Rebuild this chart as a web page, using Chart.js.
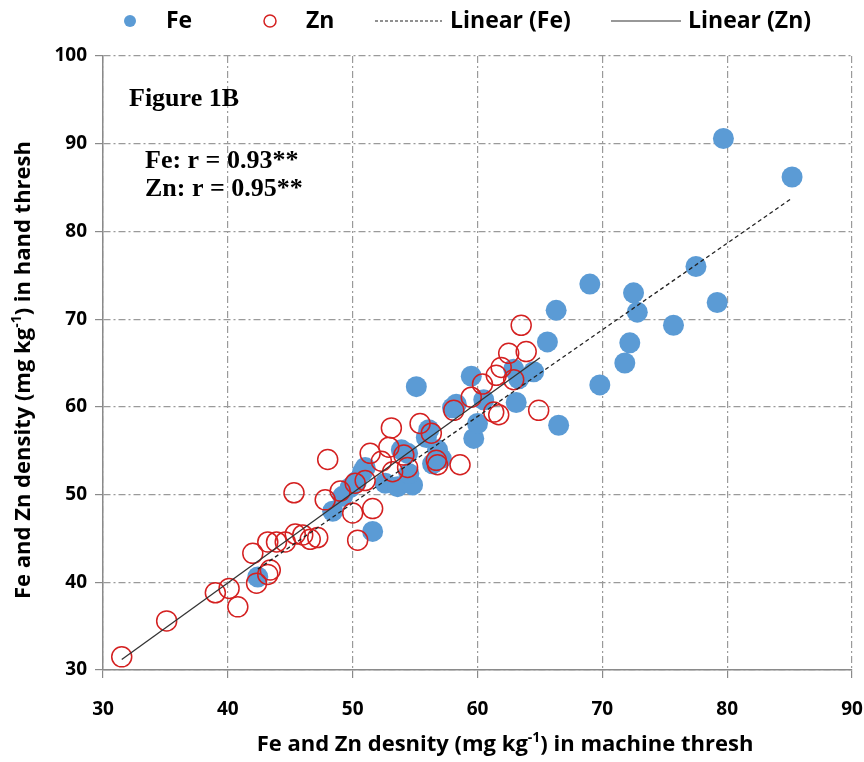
<!DOCTYPE html>
<html>
<head>
<meta charset="utf-8">
<script src="https://cdn.jsdelivr.net/npm/chart.js@4.4.1/dist/chart.umd.min.js"></script>
<style>
  html, body { margin: 0; padding: 0; background: #fff; overflow: hidden; }
  #wrap { width: 864px; height: 762px; position: relative; }
</style>
</head>
<body>
<div id="wrap"><canvas id="chart"></canvas></div>
<script>
// Fe: machine thresh (x) vs hand thresh (y)
const feMachine = [42.4, 48.4, 49.2, 49.8, 50.3, 50.8, 51.0, 51.6, 52.6, 53.6, 54.8, 54.5, 54.4, 53.9, 55.9,
  56.1, 56.8, 57.1, 56.4, 55.1, 58.0, 58.3, 59.5, 60.5, 59.7, 60.0, 62.9, 63.3, 64.5, 63.1,
  65.6, 66.3, 66.5, 69.0, 69.8, 71.8, 72.2, 72.5, 72.8, 75.7, 77.5, 79.2, 79.7, 85.2];
const feHand = [40.6, 48.1, 49.8, 50.8, 51.5, 52.6, 53.1, 45.8, 51.3, 50.9, 51.1, 52.4, 54.7, 55.1, 56.5,
  57.4, 55.1, 54.1, 53.5, 62.3, 59.9, 60.3, 63.5, 60.8, 56.4, 58.1, 64.3, 63.2, 64.0, 60.5,
  67.4, 71.0, 57.9, 74.0, 62.5, 65.0, 67.3, 73.0, 70.8, 69.3, 76.0, 71.9, 90.6, 86.2];

// Zn: machine thresh (x) vs hand thresh (y)
const znMachine = [31.5, 35.1, 39.0, 40.1, 40.8, 42.3, 43.2, 43.4, 42.0, 43.2, 43.9, 44.6, 45.4, 46.0, 46.6,
  47.2, 45.3, 47.8, 48.0, 49.0, 50.2, 51.0, 50.0, 51.6, 50.4, 51.4, 52.3, 52.9, 53.2, 53.1,
  54.1, 54.4, 55.4, 56.3, 56.7, 56.8, 58.6, 58.1, 59.5, 60.4, 61.3, 61.7, 61.5, 61.9, 62.9,
  62.5, 63.9, 63.5, 64.9];
const znHand = [31.5, 35.6, 38.8, 39.3, 37.2, 39.9, 40.9, 41.4, 43.3, 44.6, 44.6, 44.6, 45.5, 45.4, 44.9,
  45.1, 50.2, 49.4, 54.0, 50.4, 51.3, 51.6, 47.9, 48.4, 44.8, 54.7, 53.8, 55.4, 52.6, 57.6,
  54.5, 53.1, 58.1, 57.0, 53.9, 53.4, 53.4, 59.6, 61.1, 62.6, 59.4, 59.1, 63.6, 64.5, 63.1,
  66.1, 66.3, 69.3, 59.6];

// trend line end points
const feTrendX = [42.4, 85.2];
const feTrendY = [41.5, 83.8];
const znTrendX = [31.5, 65.0];
const znTrendY = [31.2, 65.6];

const xTicks = [30, 40, 50, 60, 70, 80, 90];
const yTicks = [30, 40, 50, 60, 70, 80, 90, 100];

const xTitle = [['Fe and Zn desnity (mg kg'], ['-1', true], [') in machine thresh']];
const yTitle = [['Fe and Zn density (mg kg'], ['-1', true], [') in hand thresh']];

const toPoints = (xs, ys) => xs.map((x, i) => ({ x, y: ys[i] }));

const FONT = '"Open Sans", Lato, sans-serif';
const BLUE = '#5B9BD5';
const RED = '#D42020';

const legendItems = [
  { label: 'Fe', kind: 'dot', x: 130, tx: 166 },
  { label: 'Zn', kind: 'ring', x: 270, tx: 306 },
  { label: 'Linear (Fe)', kind: 'dash', x: 375, x2: 442, tx: 450 },
  { label: 'Linear (Zn)', kind: 'line', x: 611, x2: 681, tx: 688 },
];

// text with a superscript part, centred on (0,0) of the current transform
function richText(ctx, parts, size) {
  const big = 'bold ' + size + 'px ' + FONT;
  const small = 'bold ' + Math.round(size * 0.62) + 'px ' + FONT;
  let total = 0;
  parts.forEach(([t, sup]) => { ctx.font = sup ? small : big; total += ctx.measureText(t).width; });
  let x = -total / 2;
  ctx.textAlign = 'left';
  ctx.textBaseline = 'middle';
  parts.forEach(([t, sup]) => {
    ctx.font = sup ? small : big;
    ctx.fillText(t, x, sup ? -size * 0.33 : 0);
    x += ctx.measureText(t).width;
  });
}

const extras = {
  id: 'extras',
  afterDraw(chart) {
    const ctx = chart.ctx;
    ctx.save();
    // legend
    const ly = 21;
    legendItems.forEach(it => {
      ctx.lineWidth = 1.5;
      if (it.kind === 'dot') {
        ctx.fillStyle = BLUE;
        ctx.beginPath(); ctx.arc(it.x, ly, 6, 0, Math.PI * 2); ctx.fill();
      } else if (it.kind === 'ring') {
        ctx.strokeStyle = RED;
        ctx.beginPath(); ctx.arc(it.x, ly, 6, 0, Math.PI * 2); ctx.stroke();
      } else {
        ctx.strokeStyle = it.kind === 'dash' ? '#222' : '#333';
        ctx.lineWidth = 1.2;
        ctx.setLineDash(it.kind === 'dash' ? [3, 2] : []);
        ctx.beginPath(); ctx.moveTo(it.x, ly); ctx.lineTo(it.x2, ly); ctx.stroke();
        ctx.setLineDash([]);
      }
      ctx.fillStyle = '#000';
      ctx.font = 'bold 23px ' + FONT;
      ctx.textBaseline = 'middle';
      ctx.textAlign = 'left';
      ctx.fillText(it.label, it.tx, ly);
    });
    // axis titles
    ctx.fillStyle = '#000';
    ctx.save();
    ctx.translate(505, 745);
    richText(ctx, xTitle, 22);
    ctx.restore();
    ctx.save();
    ctx.translate(24, 370);
    ctx.rotate(-Math.PI / 2);
    richText(ctx, yTitle, 22);
    ctx.restore();
    // annotations
    ctx.font = 'bold 26px "Liberation Serif", "Times New Roman", serif';
    ctx.textAlign = 'left';
    ctx.textBaseline = 'middle';
    ctx.fillText('Figure 1B', 129, 99);
    ctx.fillText('Fe: r = 0.93**', 145, 161);
    ctx.fillText('Zn: r = 0.95**', 145, 189);
    ctx.restore();
  }
};

new Chart(document.getElementById('chart'), {
  type: 'scatter',
  data: {
    datasets: [
      {
        label: 'Fe',
        data: toPoints(feMachine, feHand),
        backgroundColor: BLUE,
        borderColor: BLUE,
        borderWidth: 0,
        pointRadius: 10.5,
        pointHoverRadius: 10.5,
        order: 3,
      },
      {
        label: 'Zn',
        data: toPoints(znMachine, znHand),
        backgroundColor: 'rgba(0,0,0,0)',
        borderColor: RED,
        borderWidth: 1.5,
        pointRadius: 10,
        pointHoverRadius: 10,
        order: 2,
      },
      {
        label: 'Linear (Fe)',
        type: 'line',
        data: toPoints(feTrendX, feTrendY),
        borderColor: '#222',
        borderWidth: 1.3,
        borderDash: [4, 3],
        pointRadius: 0,
        fill: false,
        order: 1,
      },
      {
        label: 'Linear (Zn)',
        type: 'line',
        data: toPoints(znTrendX, znTrendY),
        borderColor: '#333',
        borderWidth: 1.3,
        pointRadius: 0,
        fill: false,
        order: 0,
      },
    ]
  },
  options: {
    responsive: true,
    maintainAspectRatio: false,
    animation: false,
    layout: { padding: { top: 56, right: 2, left: 0, bottom: 0 } },
    plugins: {
      legend: { display: false },
      tooltip: { enabled: false },
    },
    scales: {
      x: {
        type: 'linear',
        min: xTicks[0],
        max: xTicks[xTicks.length - 1],
        afterBuildTicks: s => { s.ticks = xTicks.map(v => ({ value: v })); },
        afterFit: s => { s.height = 92; s.paddingRight = 12; s.paddingLeft = 0; },
        grid: { color: '#9a9a9a', lineWidth: 1.2, tickLength: 8, tickColor: '#8a8a8a', tickBorderDash: [] },
        border: { color: '#8a8a8a', width: 1.5, dash: [7, 3, 2, 3] },
        ticks: { color: '#000', font: { family: FONT, size: 19, weight: 'bold' }, padding: 20 },
      },
      y: {
        type: 'linear',
        min: yTicks[0],
        max: yTicks[yTicks.length - 1],
        afterBuildTicks: s => { s.ticks = yTicks.map(v => ({ value: v })); },
        afterFit: s => { s.width = 103; },
        grid: { color: '#9a9a9a', lineWidth: 1.2, tickLength: 8, tickColor: '#8a8a8a', tickBorderDash: [] },
        border: { color: '#8a8a8a', width: 1.5, dash: [7, 3, 2, 3] },
        ticks: { color: '#000', font: { family: FONT, size: 19, weight: 'bold' }, padding: 8 },
      },
    },
  },
  plugins: [extras],
});
</script>
</body>
</html>
